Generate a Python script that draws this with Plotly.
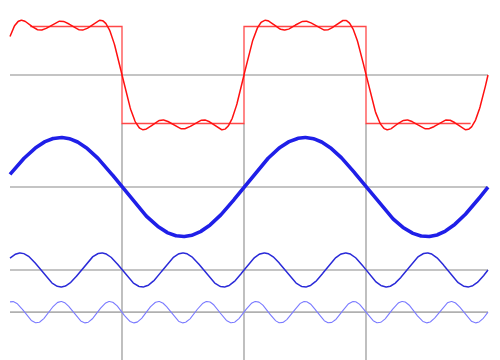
import numpy as np
import plotly.graph_objects as go

# ---- data (units: x in radians, y in units of the square-wave amplitude) ----
harmonics = [1, 3, 5]
# partial-sum coefficients of the red approximation
red_coeffs = [1.28, 0.38, 0.21]
# individual harmonic amplitudes of the blue curves
blue_amps = [1.02, 0.35, 0.22]
# baselines of each row
red_base = 0.0
blue_bases = [-2.31, -4.02, -4.89]
# square wave: breakpoints and levels
square_x = [0.78, np.pi, np.pi, 2 * np.pi, 2 * np.pi, 3 * np.pi, 3 * np.pi, 12.12]
square_y = [1, 1, -1, -1, 1, 1, -1, -1]
x_start, x_end = 0.2575, 4 * np.pi
vgrid = [np.pi, 2 * np.pi, 3 * np.pi]

blue_colors = ["#1f1fe8", "#2a2ad8", "#7a7aff"]
blue_widths = [3.6, 1.5, 1.1]

t = np.linspace(x_start, x_end, 900)
fig = go.Figure()

gray = "#b0b0b0"
# horizontal axes
for b in [red_base] + blue_bases:
    fig.add_trace(go.Scatter(x=[x_start, x_end], y=[b, b], mode="lines",
                             line=dict(color=gray, width=1.6), hoverinfo="skip"))
# vertical lines
for v in vgrid:
    fig.add_trace(go.Scatter(x=[v, v], y=[-1.0, -6.0], mode="lines",
                             line=dict(color=gray, width=1.6), hoverinfo="skip"))

# square wave
fig.add_trace(go.Scatter(x=square_x, y=square_y, mode="lines",
                         line=dict(color="rgba(255,40,40,0.85)", width=1.3)))
# partial sum
approx = sum(c * np.sin(k * t) for k, c in zip(harmonics, red_coeffs)) + red_base
fig.add_trace(go.Scatter(x=t, y=approx, mode="lines",
                         line=dict(color="#ff1010", width=1.5)))
# harmonics
for k, a, b, col, w in zip(harmonics, blue_amps, blue_bases, blue_colors, blue_widths):
    fig.add_trace(go.Scatter(x=t, y=b + a * np.sin(k * t), mode="lines",
                             line=dict(color=col, width=w)))

fig.update_layout(
    width=500, height=360, margin=dict(l=0, r=0, t=0, b=0),
    paper_bgcolor="white", plot_bgcolor="white", showlegend=False,
    xaxis=dict(range=[0, 500 * np.pi / 122], visible=False, fixedrange=True),
    yaxis=dict(range=[-360 / 48.5 + 75 / 48.5, 75 / 48.5], visible=False, fixedrange=True),
)
fig.write_html("out.html")
